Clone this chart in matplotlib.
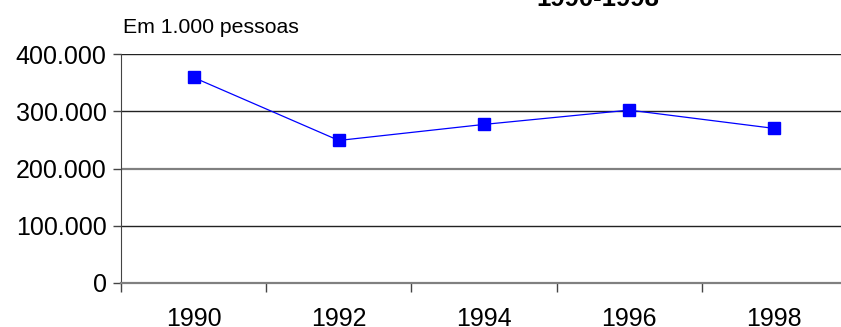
import numpy as np
import matplotlib.pyplot as plt

# dados (em 1.000 pessoas)
anos = ['1990', '1992', '1994', '1996', '1998']
valores = [359000, 249000, 277000, 302000, 270000]
yticks = [0, 100000, 200000, 300000, 400000]
ylabels = ['0', '100.000', '200.000', '300.000', '400.000']

plt.rcParams['font.family'] = ['Liberation Sans', 'DejaVu Sans']

W, H = 841, 327
fig = plt.figure(figsize=(W / 100, H / 100), dpi=100)
# area do grafico (em pixels): x 121..847, y 54..283
ax = fig.add_axes([121 / W, (H - 283) / H, (847 - 121) / W, (283 - 54) / H])

x = np.arange(len(anos))
ax.plot(x, valores, color='#0000FF', lw=0.9, marker='s', markersize=9,
        markerfacecolor='#0000FF', markeredgecolor='#0000FF', zorder=3)

ax.set_xlim(-0.5, len(anos) - 0.5)
ax.set_ylim(0, 400000)

# linhas de grade
for v in yticks[1:]:
    cor = '#808080' if v == 200000 else '#222222'
    lw = 1.6 if v == 200000 else 1.0
    ax.axhline(v, color=cor, lw=lw, zorder=1)

ax.set_yticks(yticks)
ax.set_yticklabels(ylabels, fontsize=18)
ax.tick_params(axis='y', length=5.8, width=1, color='#444444', pad=4.5)

ax.set_xticks(x)
ax.set_xticklabels(anos, fontsize=18)
ax.tick_params(axis='x', which='major', length=0, pad=17)
ax.set_xticks(np.arange(-0.5, len(anos) + 0.5, 1), minor=True)
ax.tick_params(axis='x', which='minor', length=6.5, width=1, color='#444444')

for s in ['top', 'right']:
    ax.spines[s].set_visible(False)
ax.spines['left'].set_color('#444444')
ax.spines['bottom'].set_color('#808080')
ax.spines['bottom'].set_linewidth(1.6)

fig.text(123 / W, 1 - 33 / H, 'Em 1.000 pessoas', fontsize=15.3, va='baseline')
fig.text(598 / W, 1 - 6 / H, '1990-1998', fontsize=18.5, fontweight='bold',
         ha='center', va='baseline')

fig.savefig('out.png', dpi=100)
